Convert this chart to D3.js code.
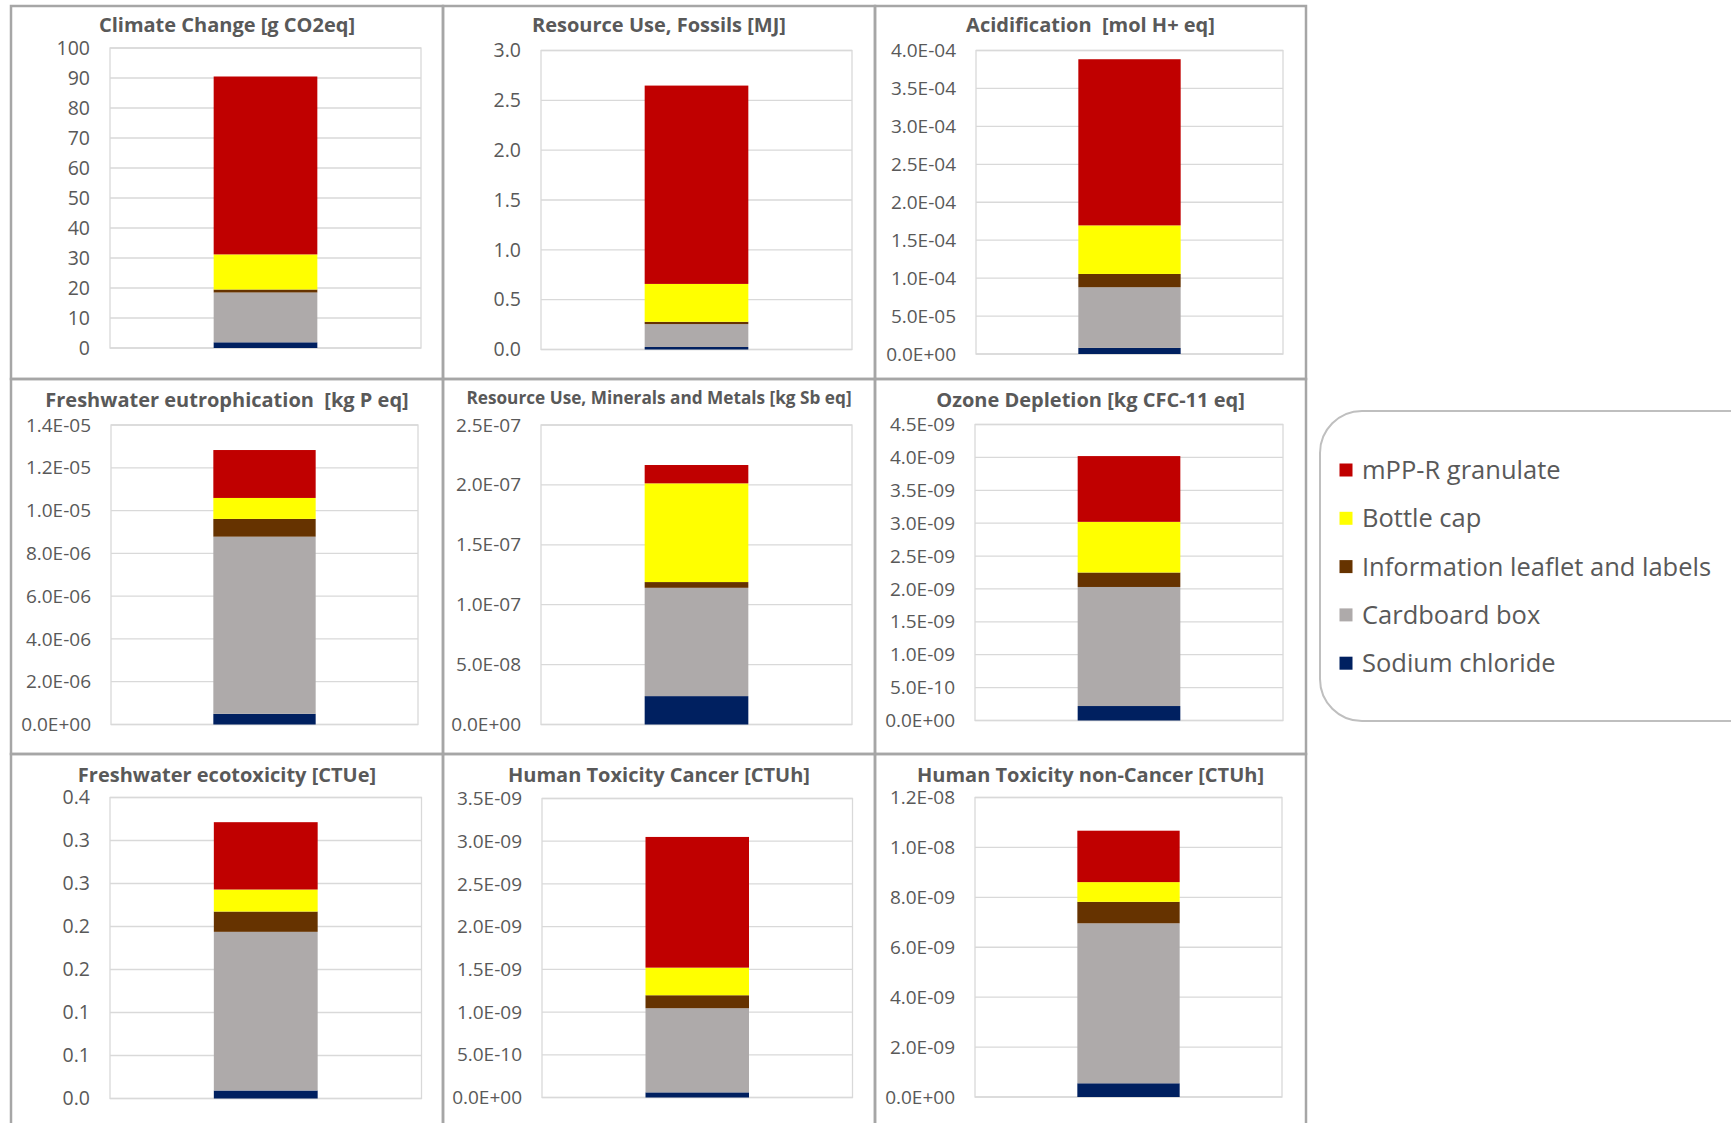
<!DOCTYPE html>
<html>
<head>
<meta charset="utf-8">
<script src="https://cdn.jsdelivr.net/npm/d3@7"></script>
<style>
    body { margin: 0; background: #fff; }
    svg { display: block; font-family: "Open Sans", sans-serif; }
    text { white-space: pre; }
</style>
</head>
<body>
<div id="chart"></div>
<script>
// impact categories (panel titles), left to right, top to bottom
const categories = [
    "Climate Change [g CO2eq]",
    "Resource Use, Fossils [MJ]",
    "Acidification  [mol H+ eq]",
    "Freshwater eutrophication  [kg P eq]",
    "Resource Use, Minerals and Metals [kg Sb eq]",
    "Ozone Depletion [kg CFC-11 eq]",
    "Freshwater ecotoxicity [CTUe]",
    "Human Toxicity Cancer [CTUh]",
    "Human Toxicity non-Cancer [CTUh]"
]

// stacked from the bottom up
const seriesNames = ["Sodium chloride", "Cardboard box", "Information leaflet and labels", "Bottle cap", "mPP-R granulate"]
const seriesColors = ["#002060", "#aeaaaa", "#663300", "#ffff00", "#c00000"]

const sodiumChloride = [1.9, 0.025, 8.0e-6, 5.0e-7, 2.37e-8, 2.2e-10, 0.0093, 6.0e-11, 5.5e-10]
const cardboardBox = [16.6, 0.23, 8.0e-5, 8.28e-6, 9.04e-8, 1.81e-9, 0.1845, 9.85e-10, 6.41e-9]
const leaflet = [1.0, 0.023, 1.75e-5, 8.3e-7, 4.8e-9, 2.2e-10, 0.0236, 1.52e-10, 8.6e-10]
const bottleCap = [11.7, 0.38, 6.4e-5, 9.8e-7, 8.24e-8, 7.7e-10, 0.0256, 3.23e-10, 7.9e-10]
const mppR = [59.3, 1.99, 2.19e-4, 2.24e-6, 1.53e-8, 1.0e-9, 0.0783, 1.53e-9, 2.06e-9]

// value axis top for every panel
const axisMax = [100, 3.0, 4.0e-4, 1.4e-5, 2.5e-7, 4.5e-9, 0.35, 3.5e-9, 1.2e-8]

// tick labels as printed, from 0 upward
const tickLabels = [
    ["0", "10", "20", "30", "40", "50", "60", "70", "80", "90", "100"],
    ["0.0", "0.5", "1.0", "1.5", "2.0", "2.5", "3.0"],
    ["0.0E+00", "5.0E-05", "1.0E-04", "1.5E-04", "2.0E-04", "2.5E-04", "3.0E-04", "3.5E-04", "4.0E-04"],
    ["0.0E+00", "2.0E-06", "4.0E-06", "6.0E-06", "8.0E-06", "1.0E-05", "1.2E-05", "1.4E-05"],
    ["0.0E+00", "5.0E-08", "1.0E-07", "1.5E-07", "2.0E-07", "2.5E-07"],
    ["0.0E+00", "5.0E-10", "1.0E-09", "1.5E-09", "2.0E-09", "2.5E-09", "3.0E-09", "3.5E-09", "4.0E-09", "4.5E-09"],
    ["0.0", "0.1", "0.1", "0.2", "0.2", "0.3", "0.3", "0.4"],
    ["0.0E+00", "5.0E-10", "1.0E-09", "1.5E-09", "2.0E-09", "2.5E-09", "3.0E-09", "3.5E-09"],
    ["0.0E+00", "2.0E-09", "4.0E-09", "6.0E-09", "8.0E-09", "1.0E-08", "1.2E-08"]
]

var width = 1731
var height = 1123
var textColor = "#595959"
var gridColor = "#d9d9d9"
var frameColor = "#a6a6a6"

// panel frames and plot areas (layout only)
var colX = [11, 443, 875, 1306]
var rowY = [6, 379, 754, 1135]
var plots = [
    { left: 110, top: 48, right: 421, bottom: 348, titleY: 25, tickSize: 19.5, titleSize: 20 },
    { left: 541, top: 50.5, right: 852, bottom: 349.5, titleY: 25, tickSize: 19.5, titleSize: 20 },
    { left: 976, top: 50.5, right: 1283, bottom: 354, titleY: 25, tickSize: 19, titleSize: 20 },
    { left: 111, top: 425, right: 418, bottom: 724.5, titleY: 400, tickSize: 19, titleSize: 20 },
    { left: 541, top: 425, right: 852, bottom: 724.5, titleY: 398, tickSize: 19, titleSize: 17.2 },
    { left: 975, top: 424.5, right: 1283, bottom: 720.5, titleY: 400, tickSize: 19, titleSize: 20 },
    { left: 110, top: 797.5, right: 421.5, bottom: 1098.5, titleY: 775, tickSize: 19.5, titleSize: 20 },
    { left: 542, top: 798.5, right: 852.5, bottom: 1097.5, titleY: 775, tickSize: 19, titleSize: 20 },
    { left: 975, top: 797.5, right: 1282, bottom: 1097, titleY: 775, tickSize: 19, titleSize: 20 }
]

var svg = d3.select("#chart").append("svg")
    .attr("width", width)
    .attr("height", height)

var seriesValues = [sodiumChloride, cardboardBox, leaflet, bottleCap, mppR]

function drawPanel(i) {
    let col = i % 3
    let row = Math.floor(i / 3)
    let p = plots[i]
    let g = svg.append("g").attr("class", "panel")

    let rowData = { category: categories[i] }
    seriesNames.forEach((s, k) => rowData[s] = seriesValues[k][i])
    let stacked = d3.stack().keys(seriesNames)([rowData])

    let x = d3.scaleBand()
        .domain([categories[i]])
        .range([p.left, p.right])
        .paddingInner(0.5)
        .paddingOuter(0.5)

    let y = d3.scaleLinear()
        .domain([0, axisMax[i]])
        .range([p.bottom, p.top])

    let labels = tickLabels[i]
    let ticks = labels.map((l, k) => k * axisMax[i] / (labels.length - 1))

    // plot area border
    g.append("rect")
        .attr("x", p.left)
        .attr("y", p.top)
        .attr("width", p.right - p.left)
        .attr("height", p.bottom - p.top)
        .attr("fill", "#fff")
        .attr("stroke", gridColor)
        .attr("stroke-width", 1.3)

    // gridlines
    g.append("g")
        .selectAll("line")
        .data(ticks)
        .join("line")
        .attr("x1", p.left)
        .attr("x2", p.right)
        .attr("y1", d => y(d))
        .attr("y2", d => y(d))
        .attr("stroke", gridColor)
        .attr("stroke-width", 1.3)

    // stacked bar
    g.append("g")
        .selectAll("rect")
        .data(stacked)
        .join("rect")
        .attr("x", x(categories[i]))
        .attr("width", x.bandwidth())
        .attr("y", d => y(d[0][1]))
        .attr("height", d => y(d[0][0]) - y(d[0][1]))
        .attr("fill", (d, k) => seriesColors[k])

    // value axis
    let axis = g.append("g")
        .attr("transform", "translate(" + p.left + ",0)")
        .call(d3.axisLeft(y)
            .tickValues(ticks)
            .tickFormat((d, k) => labels[k])
            .tickSize(0)
            .tickPadding(20))
    axis.select(".domain").remove()
    axis.selectAll("text")
        .attr("fill", textColor)
        .style("font-family", "'Open Sans', sans-serif")
        .style("font-size", p.tickSize + "px")

    // frame
    g.append("rect")
        .attr("x", colX[col])
        .attr("y", rowY[row])
        .attr("width", colX[col + 1] - colX[col])
        .attr("height", rowY[row + 1] - rowY[row])
        .attr("fill", "none")
        .attr("stroke", frameColor)
        .attr("stroke-width", 2.5)

    // title
    g.append("text")
        .attr("x", (colX[col] + colX[col + 1]) / 2)
        .attr("y", p.titleY)
        .attr("dy", "0.35em")
        .attr("text-anchor", "middle")
        .attr("fill", textColor)
        .attr("font-weight", "bold")
        .attr("font-size", p.titleSize + "px")
        .text(categories[i])
}

function drawLegend() {
    let legend = svg.append("g").attr("class", "legend")
    legend.append("rect")
        .attr("x", 1320)
        .attr("y", 411)
        .attr("width", 460)
        .attr("height", 310)
        .attr("rx", 42)
        .attr("fill", "#fff")
        .attr("stroke", "#bfbfbf")
        .attr("stroke-width", 2)

    let order = d3.range(seriesNames.length).reverse()
    order.forEach((k, j) => {
        let cy = 470 + j * 48.3
        legend.append("rect")
            .attr("x", 1339.5)
            .attr("y", cy - 6.5)
            .attr("width", 13)
            .attr("height", 13)
            .attr("fill", seriesColors[k])
        legend.append("text")
            .attr("x", 1362)
            .attr("y", cy)
            .attr("dy", "0.35em")
            .attr("fill", textColor)
            .attr("font-size", "25.5px")
            .text(seriesNames[k])
    })
}

for (let i = 0; i < categories.length; i++) {
    drawPanel(i)
}
drawLegend()
</script>
</body>
</html>
